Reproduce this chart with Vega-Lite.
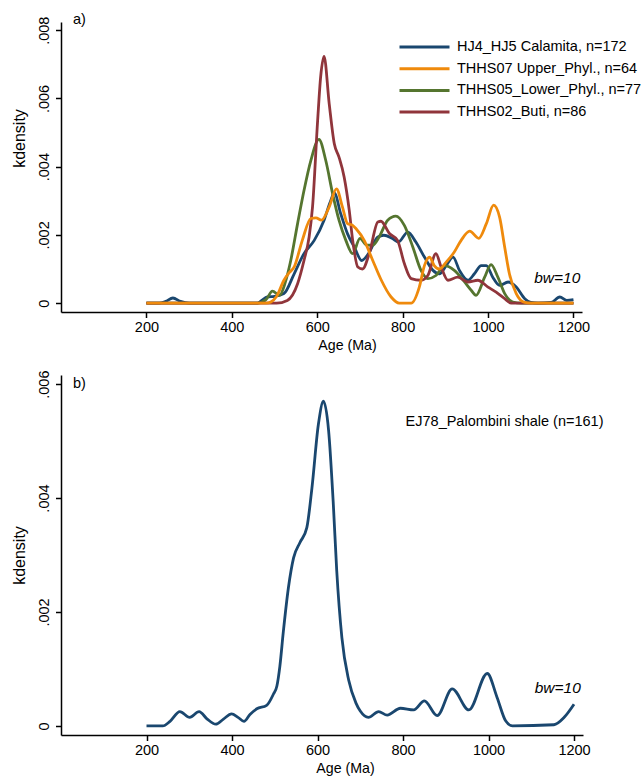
{
 "$schema": "https://vega.github.io/schema/vega-lite/v6.json",
 "background": "white",
 "padding": {"left": 11, "top": 11, "right": 5, "bottom": 5},
 "bounds": "flush",
 "spacing": 63,
 "config": {
  "view": {"stroke": null},
  "font": "Liberation Sans",
  "axis": {"grid": false, "domainColor": "black", "domainWidth": 1.5, "tickColor": "black", "tickWidth": 1.5, "tickSize": 5.5, "labelFontSize": 14.5, "labelColor": "black", "titleFontWeight": "normal", "titleColor": "black", "labelFont": "Liberation Sans", "titleFont": "Liberation Sans", "labelFlush": false, "labelOverlap": false},
  "axisX": {"titleFontSize": 14.2, "titleY": 33.7, "titleAlign": "center", "titleBaseline": "middle", "labelPadding": 3},
  "axisY": {"titleFontSize": 16, "titleX": -42, "titleBaseline": "middle", "labelAngle": -90, "labelAlign": "center", "labelBaseline": "middle", "labelPadding": 11.5}
 },
 "datasets": {
  "a": [
   {"s":"HJ4_HJ5 Calamita, n=172","age":200,"kd":0},{"s":"HJ4_HJ5 Calamita, n=172","age":230,"kd":0},{"s":"HJ4_HJ5 Calamita, n=172","age":245,"kd":0.00005},{"s":"HJ4_HJ5 Calamita, n=172","age":262,"kd":0.00015},{"s":"HJ4_HJ5 Calamita, n=172","age":280,"kd":0.00005},{"s":"HJ4_HJ5 Calamita, n=172","age":300,"kd":0},{"s":"HJ4_HJ5 Calamita, n=172","age":460,"kd":0},{"s":"HJ4_HJ5 Calamita, n=172","age":470,"kd":0.00008},{"s":"HJ4_HJ5 Calamita, n=172","age":483,"kd":0.00018},{"s":"HJ4_HJ5 Calamita, n=172","age":500,"kd":0.0002},{"s":"HJ4_HJ5 Calamita, n=172","age":522,"kd":0.00028},{"s":"HJ4_HJ5 Calamita, n=172","age":546,"kd":0.00086},{"s":"HJ4_HJ5 Calamita, n=172","age":569,"kd":0.00145},{"s":"HJ4_HJ5 Calamita, n=172","age":593,"kd":0.00184},{"s":"HJ4_HJ5 Calamita, n=172","age":616,"kd":0.00243},{"s":"HJ4_HJ5 Calamita, n=172","age":630,"kd":0.00295},{"s":"HJ4_HJ5 Calamita, n=172","age":640,"kd":0.00323},{"s":"HJ4_HJ5 Calamita, n=172","age":655,"kd":0.00262},{"s":"HJ4_HJ5 Calamita, n=172","age":671,"kd":0.00203},{"s":"HJ4_HJ5 Calamita, n=172","age":687,"kd":0.00164},{"s":"HJ4_HJ5 Calamita, n=172","age":704,"kd":0.00125},{"s":"HJ4_HJ5 Calamita, n=172","age":720,"kd":0.00145},{"s":"HJ4_HJ5 Calamita, n=172","age":742,"kd":0.00194},{"s":"HJ4_HJ5 Calamita, n=172","age":756,"kd":0.00199},{"s":"HJ4_HJ5 Calamita, n=172","age":775,"kd":0.0019},{"s":"HJ4_HJ5 Calamita, n=172","age":790,"kd":0.00179},{"s":"HJ4_HJ5 Calamita, n=172","age":812,"kd":0.00208},{"s":"HJ4_HJ5 Calamita, n=172","age":831,"kd":0.00179},{"s":"HJ4_HJ5 Calamita, n=172","age":851,"kd":0.00135},{"s":"HJ4_HJ5 Calamita, n=172","age":871,"kd":0.00096},{"s":"HJ4_HJ5 Calamita, n=172","age":886,"kd":0.00086},{"s":"HJ4_HJ5 Calamita, n=172","age":902,"kd":0.0011},{"s":"HJ4_HJ5 Calamita, n=172","age":918,"kd":0.00135},{"s":"HJ4_HJ5 Calamita, n=172","age":933,"kd":0.00096},{"s":"HJ4_HJ5 Calamita, n=172","age":953,"kd":0.00067},{"s":"HJ4_HJ5 Calamita, n=172","age":968,"kd":0.00086},{"s":"HJ4_HJ5 Calamita, n=172","age":984,"kd":0.0011},{"s":"HJ4_HJ5 Calamita, n=172","age":996,"kd":0.0011},{"s":"HJ4_HJ5 Calamita, n=172","age":1011,"kd":0.00076},{"s":"HJ4_HJ5 Calamita, n=172","age":1027,"kd":0.00052},{"s":"HJ4_HJ5 Calamita, n=172","age":1047,"kd":0.00062},{"s":"HJ4_HJ5 Calamita, n=172","age":1066,"kd":0.00047},{"s":"HJ4_HJ5 Calamita, n=172","age":1086,"kd":0.00013},{"s":"HJ4_HJ5 Calamita, n=172","age":1100,"kd":0.00002},{"s":"HJ4_HJ5 Calamita, n=172","age":1117,"kd":0},{"s":"HJ4_HJ5 Calamita, n=172","age":1148,"kd":0.00002},{"s":"HJ4_HJ5 Calamita, n=172","age":1168,"kd":0.00018},{"s":"HJ4_HJ5 Calamita, n=172","age":1184,"kd":0.00008},{"s":"HJ4_HJ5 Calamita, n=172","age":1200,"kd":0.0001},

   {"s":"THHS05_Lower_Phyl., n=77","age":200,"kd":0},{"s":"THHS05_Lower_Phyl., n=77","age":460,"kd":0},{"s":"THHS05_Lower_Phyl., n=77","age":480,"kd":0.0001},{"s":"THHS05_Lower_Phyl., n=77","age":495,"kd":0.00035},{"s":"THHS05_Lower_Phyl., n=77","age":512,"kd":0.00023},{"s":"THHS05_Lower_Phyl., n=77","age":525,"kd":0.0006},{"s":"THHS05_Lower_Phyl., n=77","age":538,"kd":0.00125},{"s":"THHS05_Lower_Phyl., n=77","age":554,"kd":0.00233},{"s":"THHS05_Lower_Phyl., n=77","age":569,"kd":0.0033},{"s":"THHS05_Lower_Phyl., n=77","age":585,"kd":0.00418},{"s":"THHS05_Lower_Phyl., n=77","age":604,"kd":0.0048},{"s":"THHS05_Lower_Phyl., n=77","age":620,"kd":0.00418},{"s":"THHS05_Lower_Phyl., n=77","age":636,"kd":0.00321},{"s":"THHS05_Lower_Phyl., n=77","age":651,"kd":0.00243},{"s":"THHS05_Lower_Phyl., n=77","age":667,"kd":0.00184},{"s":"THHS05_Lower_Phyl., n=77","age":683,"kd":0.00145},{"s":"THHS05_Lower_Phyl., n=77","age":700,"kd":0.0019},{"s":"THHS05_Lower_Phyl., n=77","age":716,"kd":0.0017},{"s":"THHS05_Lower_Phyl., n=77","age":730,"kd":0.0017},{"s":"THHS05_Lower_Phyl., n=77","age":745,"kd":0.00194},{"s":"THHS05_Lower_Phyl., n=77","age":765,"kd":0.00243},{"s":"THHS05_Lower_Phyl., n=77","age":784,"kd":0.00255},{"s":"THHS05_Lower_Phyl., n=77","age":804,"kd":0.00228},{"s":"THHS05_Lower_Phyl., n=77","age":824,"kd":0.00164},{"s":"THHS05_Lower_Phyl., n=77","age":843,"kd":0.00096},{"s":"THHS05_Lower_Phyl., n=77","age":859,"kd":0.00072},{"s":"THHS05_Lower_Phyl., n=77","age":878,"kd":0.00081},{"s":"THHS05_Lower_Phyl., n=77","age":898,"kd":0.0011},{"s":"THHS05_Lower_Phyl., n=77","age":921,"kd":0.00096},{"s":"THHS05_Lower_Phyl., n=77","age":945,"kd":0.00062},{"s":"THHS05_Lower_Phyl., n=77","age":961,"kd":0.00037},{"s":"THHS05_Lower_Phyl., n=77","age":972,"kd":0.00023},{"s":"THHS05_Lower_Phyl., n=77","age":992,"kd":0.00076},{"s":"THHS05_Lower_Phyl., n=77","age":1007,"kd":0.00113},{"s":"THHS05_Lower_Phyl., n=77","age":1023,"kd":0.00076},{"s":"THHS05_Lower_Phyl., n=77","age":1039,"kd":0.00028},{"s":"THHS05_Lower_Phyl., n=77","age":1058,"kd":0.00003},{"s":"THHS05_Lower_Phyl., n=77","age":1078,"kd":0},{"s":"THHS05_Lower_Phyl., n=77","age":1200,"kd":0},

   {"s":"THHS02_Buti, n=86","age":200,"kd":0},{"s":"THHS02_Buti, n=86","age":505,"kd":0},{"s":"THHS02_Buti, n=86","age":530,"kd":0.00008},{"s":"THHS02_Buti, n=86","age":554,"kd":0.00057},{"s":"THHS02_Buti, n=86","age":569,"kd":0.00125},{"s":"THHS02_Buti, n=86","age":581,"kd":0.00194},{"s":"THHS02_Buti, n=86","age":589,"kd":0.00282},{"s":"THHS02_Buti, n=86","age":601,"kd":0.00536},{"s":"THHS02_Buti, n=86","age":608,"kd":0.00663},{"s":"THHS02_Buti, n=86","age":616,"kd":0.00723},{"s":"THHS02_Buti, n=86","age":628,"kd":0.00585},{"s":"THHS02_Buti, n=86","age":640,"kd":0.00467},{"s":"THHS02_Buti, n=86","age":651,"kd":0.00428},{"s":"THHS02_Buti, n=86","age":663,"kd":0.0037},{"s":"THHS02_Buti, n=86","age":675,"kd":0.00272},{"s":"THHS02_Buti, n=86","age":683,"kd":0.00184},{"s":"THHS02_Buti, n=86","age":695,"kd":0.00106},{"s":"THHS02_Buti, n=86","age":706,"kd":0.001},{"s":"THHS02_Buti, n=86","age":722,"kd":0.00146},{"s":"THHS02_Buti, n=86","age":742,"kd":0.00238},{"s":"THHS02_Buti, n=86","age":749,"kd":0.0024},{"s":"THHS02_Buti, n=86","age":769,"kd":0.00204},{"s":"THHS02_Buti, n=86","age":788,"kd":0.00184},{"s":"THHS02_Buti, n=86","age":804,"kd":0.00116},{"s":"THHS02_Buti, n=86","age":820,"kd":0.00072},{"s":"THHS02_Buti, n=86","age":843,"kd":0.00067},{"s":"THHS02_Buti, n=86","age":859,"kd":0.00081},{"s":"THHS02_Buti, n=86","age":878,"kd":0.00145},{"s":"THHS02_Buti, n=86","age":890,"kd":0.00106},{"s":"THHS02_Buti, n=86","age":906,"kd":0.00067},{"s":"THHS02_Buti, n=86","age":929,"kd":0.00076},{"s":"THHS02_Buti, n=86","age":953,"kd":0.00062},{"s":"THHS02_Buti, n=86","age":976,"kd":0.00067},{"s":"THHS02_Buti, n=86","age":1000,"kd":0.00047},{"s":"THHS02_Buti, n=86","age":1019,"kd":0.00032},{"s":"THHS02_Buti, n=86","age":1039,"kd":0.00013},{"s":"THHS02_Buti, n=86","age":1054,"kd":0},{"s":"THHS02_Buti, n=86","age":1200,"kd":0},

   {"s":"THHS07 Upper_Phyl., n=64","age":200,"kd":0},{"s":"THHS07 Upper_Phyl., n=64","age":480,"kd":0},{"s":"THHS07 Upper_Phyl., n=64","age":491,"kd":0.00003},{"s":"THHS07 Upper_Phyl., n=64","age":505,"kd":0.0002},{"s":"THHS07 Upper_Phyl., n=64","age":522,"kd":0.00067},{"s":"THHS07 Upper_Phyl., n=64","age":535,"kd":0.0009},{"s":"THHS07 Upper_Phyl., n=64","age":546,"kd":0.00106},{"s":"THHS07 Upper_Phyl., n=64","age":565,"kd":0.00184},{"s":"THHS07 Upper_Phyl., n=64","age":585,"kd":0.00248},{"s":"THHS07 Upper_Phyl., n=64","age":597,"kd":0.0025},{"s":"THHS07 Upper_Phyl., n=64","age":610,"kd":0.00243},{"s":"THHS07 Upper_Phyl., n=64","age":628,"kd":0.00282},{"s":"THHS07 Upper_Phyl., n=64","age":645,"kd":0.00335},{"s":"THHS07 Upper_Phyl., n=64","age":659,"kd":0.00282},{"s":"THHS07 Upper_Phyl., n=64","age":671,"kd":0.00233},{"s":"THHS07 Upper_Phyl., n=64","age":683,"kd":0.00228},{"s":"THHS07 Upper_Phyl., n=64","age":691,"kd":0.00218},{"s":"THHS07 Upper_Phyl., n=64","age":710,"kd":0.00184},{"s":"THHS07 Upper_Phyl., n=64","age":730,"kd":0.00125},{"s":"THHS07 Upper_Phyl., n=64","age":749,"kd":0.0007},{"s":"THHS07 Upper_Phyl., n=64","age":773,"kd":0.00018},{"s":"THHS07 Upper_Phyl., n=64","age":792,"kd":0},{"s":"THHS07 Upper_Phyl., n=64","age":820,"kd":0},{"s":"THHS07 Upper_Phyl., n=64","age":839,"kd":0.00047},{"s":"THHS07 Upper_Phyl., n=64","age":851,"kd":0.0011},{"s":"THHS07 Upper_Phyl., n=64","age":863,"kd":0.00135},{"s":"THHS07 Upper_Phyl., n=64","age":874,"kd":0.0011},{"s":"THHS07 Upper_Phyl., n=64","age":886,"kd":0.001},{"s":"THHS07 Upper_Phyl., n=64","age":902,"kd":0.0012},{"s":"THHS07 Upper_Phyl., n=64","age":921,"kd":0.0015},{"s":"THHS07 Upper_Phyl., n=64","age":937,"kd":0.00184},{"s":"THHS07 Upper_Phyl., n=64","age":957,"kd":0.00211},{"s":"THHS07 Upper_Phyl., n=64","age":978,"kd":0.0019},{"s":"THHS07 Upper_Phyl., n=64","age":996,"kd":0.00233},{"s":"THHS07 Upper_Phyl., n=64","age":1013,"kd":0.00287},{"s":"THHS07 Upper_Phyl., n=64","age":1027,"kd":0.00252},{"s":"THHS07 Upper_Phyl., n=64","age":1039,"kd":0.00164},{"s":"THHS07 Upper_Phyl., n=64","age":1050,"kd":0.00086},{"s":"THHS07 Upper_Phyl., n=64","age":1066,"kd":0.00028},{"s":"THHS07 Upper_Phyl., n=64","age":1086,"kd":0.00002},{"s":"THHS07 Upper_Phyl., n=64","age":1100,"kd":0},{"s":"THHS07 Upper_Phyl., n=64","age":1200,"kd":0}
  ],
  "b": [
   {"age":200,"kd":0},{"age":238,"kd":0},{"age":255,"kd":0.00008},{"age":278,"kd":0.00025},{"age":301,"kd":0.00015},{"age":323,"kd":0.00025},{"age":342,"kd":0.00012},{"age":362,"kd":0.00003},{"age":380,"kd":0.00012},{"age":399,"kd":0.00021},{"age":414,"kd":0.00015},{"age":428,"kd":0.00008},{"age":442,"kd":0.0002},{"age":458,"kd":0.0003},{"age":481,"kd":0.00036},{"age":497,"kd":0.00056},{"age":505,"kd":0.0007},{"age":512,"kd":0.00105},{"age":520,"kd":0.00165},{"age":532,"kd":0.00243},{"age":544,"kd":0.00295},{"age":559,"kd":0.00322},{"age":575,"kd":0.00348},{"age":587,"kd":0.00418},{"age":602,"kd":0.00529},{"age":614,"kd":0.0057},{"age":626,"kd":0.00518},{"age":637,"kd":0.00389},{"age":645,"kd":0.00272},{"age":657,"kd":0.00155},{"age":673,"kd":0.0008},{"age":690,"kd":0.0004},{"age":700,"kd":0.00026},{"age":719,"kd":0.00015},{"age":743,"kd":0.00025},{"age":763,"kd":0.00019},{"age":794,"kd":0.00031},{"age":825,"kd":0.00028},{"age":850,"kd":0.00044},{"age":880,"kd":0.00018},{"age":915,"kd":0.00065},{"age":954,"kd":0.00028},{"age":997,"kd":0.00092},{"age":1020,"kd":0.0005},{"age":1040,"kd":0.00009},{"age":1056,"kd":0},{"age":1153,"kd":0.00002},{"age":1177,"kd":0.00015},{"age":1200,"kd":0.00038}
  ],
  "one": [{}]
 },
 "vconcat": [
  {
   "width": 521, "height": 290,
   "layer": [
    {
     "data": {"name": "a"},
     "mark": {"type": "line", "strokeWidth": 2.8, "interpolate": "monotone"},
     "encoding": {
      "x": {"field": "age", "type": "quantitative", "scale": {"domain": [0, 1220], "nice": false, "zero": false}, "axis": {"title": "Age (Ma)", "values": [200,400,600,800,1000,1200], "format": "d", "titleX": 286}},
      "y": {"field": "kd", "type": "quantitative", "scale": {"domain": [-0.00026, 0.00824], "nice": false, "zero": false}, "axis": {"title": "kdensity", "values": [0,0.002,0.004,0.006,0.008], "labelExpr": "datum.value == 0 ? '0' : replace(format(datum.value, '.3f'), '0.', '.')", "titleY": 116}},
      "color": {"field": "s", "type": "nominal", "sort": null,
       "scale": {"domain": ["HJ4_HJ5 Calamita, n=172", "THHS07 Upper_Phyl., n=64", "THHS05_Lower_Phyl., n=77", "THHS02_Buti, n=86"], "range": ["#1a476f", "#ef8a0c", "#55752f", "#90353b"]},
       "legend": {"title": null, "orient": "none", "legendX": 337, "legendY": 17, "symbolType": "stroke", "symbolSize": 2500, "symbolStrokeWidth": 3, "labelFontSize": 14.5, "labelColor": "black", "labelFont": "Liberation Sans", "clipHeight": 16, "rowPadding": 5.7, "labelOffset": 6, "labelLimit": 300, "padding": 0}}
     }
    },
    {
     "data": {"name": "one"},
     "mark": {"type": "text", "fontSize": 14.5, "align": "left", "baseline": "middle", "color": "black"},
     "encoding": {
      "x": {"datum": 28, "type": "quantitative", "scale": {"domain": [0, 1220], "nice": false, "zero": false}, "axis": {"title": "Age (Ma)", "values": [200,400,600,800,1000,1200], "format": "d", "titleX": 286}},
      "y": {"datum": 0.0083, "type": "quantitative", "scale": {"domain": [-0.00026, 0.00824], "nice": false, "zero": false}, "axis": {"title": "kdensity", "values": [0,0.002,0.004,0.006,0.008], "labelExpr": "datum.value == 0 ? '0' : replace(format(datum.value, '.3f'), '0.', '.')", "titleY": 116}},
      "text": {"value": "a)"}
     }
    },
    {
     "data": {"name": "one"},
     "mark": {"type": "text", "fontSize": 15.5, "fontStyle": "italic", "align": "center", "baseline": "middle", "color": "black"},
     "encoding": {
      "x": {"datum": 1162, "type": "quantitative", "scale": {"domain": [0, 1220], "nice": false, "zero": false}, "axis": {"title": "Age (Ma)", "values": [200,400,600,800,1000,1200], "format": "d", "titleX": 286}},
      "y": {"datum": 0.00073, "type": "quantitative", "scale": {"domain": [-0.00026, 0.00824], "nice": false, "zero": false}, "axis": {"title": "kdensity", "values": [0,0.002,0.004,0.006,0.008], "labelExpr": "datum.value == 0 ? '0' : replace(format(datum.value, '.3f'), '0.', '.')", "titleY": 116}},
      "text": {"value": "bw=10"}
     }
    }
   ]
  },
  {
   "width": 522, "height": 360,
   "layer": [
    {
     "data": {"name": "b"},
     "mark": {"type": "line", "strokeWidth": 2.8, "interpolate": "monotone", "color": "#1a476f"},
     "encoding": {
      "x": {"field": "age", "type": "quantitative", "scale": {"domain": [0, 1221], "nice": false, "zero": false}, "axis": {"title": "Age (Ma)", "values": [200,400,600,800,1000,1200], "format": "d", "titleX": 284}},
      "y": {"field": "kd", "type": "quantitative", "scale": {"domain": [-0.00016, 0.00616], "nice": false, "zero": false}, "axis": {"title": "kdensity", "values": [0,0.002,0.004,0.006], "labelExpr": "datum.value == 0 ? '0' : replace(format(datum.value, '.3f'), '0.', '.')", "titleY": 180}}
     }
    },
    {
     "data": {"name": "one"},
     "mark": {"type": "text", "fontSize": 14.5, "align": "left", "baseline": "middle", "color": "black"},
     "encoding": {
      "x": {"datum": 28, "type": "quantitative", "scale": {"domain": [0, 1221], "nice": false, "zero": false}, "axis": {"title": "Age (Ma)", "values": [200,400,600,800,1000,1200], "format": "d", "titleX": 284}},
      "y": {"datum": 0.006, "type": "quantitative", "scale": {"domain": [-0.00016, 0.00616], "nice": false, "zero": false}, "axis": {"title": "kdensity", "values": [0,0.002,0.004,0.006], "labelExpr": "datum.value == 0 ? '0' : replace(format(datum.value, '.3f'), '0.', '.')", "titleY": 180}},
      "text": {"value": "b)"}
     }
    },
    {
     "data": {"name": "one"},
     "mark": {"type": "text", "fontSize": 14.5, "align": "left", "baseline": "middle", "color": "black"},
     "encoding": {
      "x": {"datum": 806, "type": "quantitative", "scale": {"domain": [0, 1221], "nice": false, "zero": false}, "axis": {"title": "Age (Ma)", "values": [200,400,600,800,1000,1200], "format": "d", "titleX": 284}},
      "y": {"datum": 0.00533, "type": "quantitative", "scale": {"domain": [-0.00016, 0.00616], "nice": false, "zero": false}, "axis": {"title": "kdensity", "values": [0,0.002,0.004,0.006], "labelExpr": "datum.value == 0 ? '0' : replace(format(datum.value, '.3f'), '0.', '.')", "titleY": 180}},
      "text": {"value": "EJ78_Palombini shale (n=161)"}
     }
    },
    {
     "data": {"name": "one"},
     "mark": {"type": "text", "fontSize": 15.5, "fontStyle": "italic", "align": "center", "baseline": "middle", "color": "black"},
     "encoding": {
      "x": {"datum": 1162, "type": "quantitative", "scale": {"domain": [0, 1221], "nice": false, "zero": false}, "axis": {"title": "Age (Ma)", "values": [200,400,600,800,1000,1200], "format": "d", "titleX": 284}},
      "y": {"datum": 0.00066, "type": "quantitative", "scale": {"domain": [-0.00016, 0.00616], "nice": false, "zero": false}, "axis": {"title": "kdensity", "values": [0,0.002,0.004,0.006], "labelExpr": "datum.value == 0 ? '0' : replace(format(datum.value, '.3f'), '0.', '.')", "titleY": 180}},
      "text": {"value": "bw=10"}
     }
    }
   ]
  }
 ]
}
